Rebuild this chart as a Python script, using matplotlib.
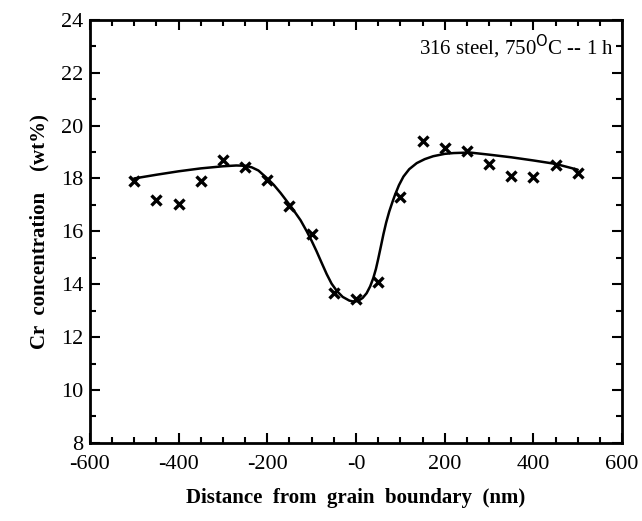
import numpy as np
import matplotlib.pyplot as plt
from matplotlib.ticker import MultipleLocator, FixedLocator, FixedFormatter

plt.rcParams['font.family'] = ['Liberation Serif', 'DejaVu Serif']

# measured points (distance nm, Cr wt%)
dist = [-500, -450, -400, -350, -300, -250, -200, -150, -100, -50, 0,
        50, 100, 150, 200, 250, 300, 350, 400, 450, 500]
cr = [17.9, 17.2, 17.05, 17.9, 18.7, 18.45, 17.95, 16.95, 15.9, 13.65, 13.45,
      14.1, 17.3, 19.4, 19.15, 19.05, 18.55, 18.1, 18.05, 18.5, 18.2]

# fitted curve
curve_x = [-500, -450, -400, -350, -300, -270, -250, -235, -220, -200, -185,
           -170, -155, -145, -125, -111, -100, -89, -78, -66, -55, -43, -30,
           -15, -5, 5, 15, 24, 32, 39, 45, 50, 56, 62, 68, 75, 82, 88, 97,
           107, 120, 137, 155, 174, 200, 220, 257, 300, 350, 400, 450, 500]
curve_y = [18.0, 18.14, 18.27, 18.38, 18.46, 18.49, 18.48, 18.42, 18.3, 18.0,
           17.75, 17.45, 17.12, 16.9, 16.42, 16.0, 15.64, 15.25, 14.83, 14.38,
           14.02, 13.74, 13.52, 13.38, 13.34, 13.37, 13.48, 13.66, 13.92, 14.23,
           14.58, 14.95, 15.42, 15.9, 16.33, 16.75, 17.1, 17.38, 17.75, 18.07,
           18.35, 18.58, 18.73, 18.84, 18.93, 18.96, 18.98, 18.9, 18.8, 18.68,
           18.55, 18.33]

xticks = [-600, -400, -200, 0, 200, 400, 600]
xtick_labels = ['-600', '-400', '-200', '-0', '200', '400', '600']
yticks = [8, 10, 12, 14, 16, 18, 20, 22, 24]

fig = plt.figure(figsize=(6.42, 5.21), dpi=100)
ax = fig.add_axes([0.140, 0.150, 0.829, 0.812])

ax.plot(curve_x, curve_y, color='black', lw=1.8, solid_capstyle='round',
        solid_joinstyle='round')
ax.plot(dist, cr, linestyle='none', marker='x', color='black',
        markersize=7.5, markeredgewidth=2.4)

ax.set_xlim(-600, 600)
ax.set_ylim(8, 24)
ax.xaxis.set_major_locator(FixedLocator(xticks))
ax.xaxis.set_major_formatter(FixedFormatter(xtick_labels))
ax.xaxis.set_minor_locator(MultipleLocator(50))
ax.set_yticks(yticks)
ax.yaxis.set_minor_locator(MultipleLocator(1))

ax.tick_params(which='both', direction='in', top=True, right=True,
               labelsize=16, width=1.5)
ax.tick_params(axis='x', pad=9)
ax.tick_params(axis='y', pad=5)
ax.tick_params(which='major', length=7)
ax.tick_params(which='minor', length=4)
for s in ax.spines.values():
    s.set_linewidth(2)

ax.set_xlabel('Distance  from  grain  boundary  (nm)', fontsize=15,
              fontweight='bold', labelpad=10)
ax.set_ylabel('Cr  concentration    (wt%)', fontsize=15,
              fontweight='bold', labelpad=8)

ax.text(0.985, 0.935, r'316 steel, 750$^{\rm O}$C -- 1 h', transform=ax.transAxes,
        ha='right', va='center', fontsize=15)

fig.savefig('out.png', dpi=100)
